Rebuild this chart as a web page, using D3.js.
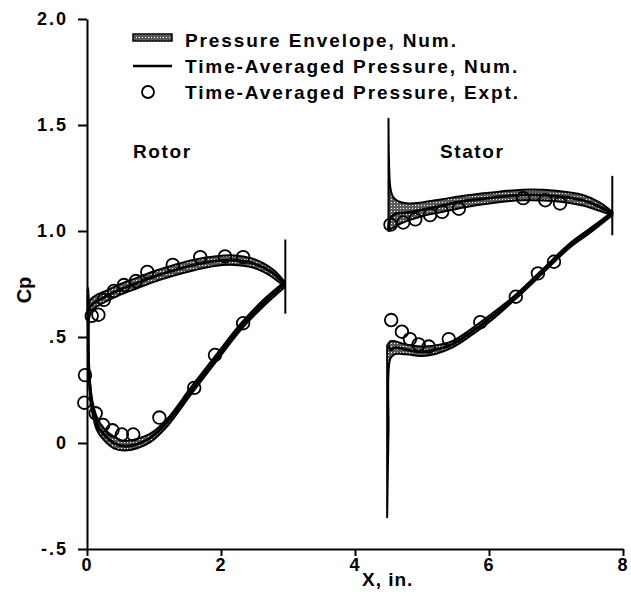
<!DOCTYPE html>
<html>
<head>
<meta charset="utf-8">
<script src="https://cdn.jsdelivr.net/npm/d3@7"></script>
<style>
  body { margin: 0; background: #fff; }
  text { font-family: "Liberation Sans", Arial, Helvetica, sans-serif; font-weight: bold; fill: #000; }
</style>
</head>
<body>
<div id="chart"></div>
<script>
// Set the dimensions of the chart
const width = 631;
const height = 609;

// axis ticks
const xTicks = [0, 2, 4, 6, 8];
const xTickLabels = ["0", "2", "4", "6", "8"];
const yTicks = [-0.5, 0, 0.5, 1.0, 1.5, 2.0];
const yTickLabels = ["-.5", "0", ".5", "1.0", "1.5", "2.0"];

// legend entries
const legendLabels = ["Pressure Envelope, Num.", "Time-Averaged Pressure, Num.", "Time-Averaged Pressure, Expt."];

// time-averaged pressure, numerical [x, Cp]
const rotorUpper = [[0.02, 0.53], [0.01, 0.73], [0.04, 0.64], [0.08, 0.655], [0.15, 0.67], [0.3, 0.695], [0.5, 0.725], [0.75, 0.755], [1.0, 0.785], [1.3, 0.815], [1.6, 0.84], [1.9, 0.858], [2.2, 0.862], [2.45, 0.85], [2.65, 0.825], [2.8, 0.795], [2.95, 0.75]];
const rotorLower = [[0.02, 0.53], [0.02, 0.42], [0.04, 0.28], [0.08, 0.17], [0.15, 0.09], [0.25, 0.04], [0.4, 0.0], [0.55, -0.015], [0.75, -0.005], [0.95, 0.025], [1.2, 0.1], [1.55, 0.245], [1.95, 0.41], [2.3, 0.55], [2.65, 0.665], [2.95, 0.75]];
const statorUpper = [[4.5, 1.01], [4.53, 1.06], [4.6, 1.08], [4.7, 1.085], [4.85, 1.09], [5.0, 1.1], [5.3, 1.12], [5.6, 1.14], [6.0, 1.155], [6.5, 1.17], [7.0, 1.165], [7.4, 1.145], [7.65, 1.115], [7.84, 1.08]];
const statorLower = [[4.5, 0.46], [4.53, 0.44], [4.6, 0.45], [4.7, 0.445], [4.85, 0.435], [5.0, 0.43], [5.2, 0.44], [5.45, 0.465], [5.7, 0.515], [6.0, 0.585], [6.4, 0.69], [6.8, 0.81], [7.2, 0.93], [7.5, 1.0], [7.84, 1.08]];

// pressure envelope, numerical [x, min Cp, max Cp]
const rotorUpperEnv = [[0.02, 0.51, 0.56], [0.04, 0.6, 0.67], [0.08, 0.625, 0.685], [0.15, 0.645, 0.7], [0.3, 0.67, 0.72], [0.5, 0.7, 0.75], [0.75, 0.73, 0.78], [1.0, 0.76, 0.81], [1.3, 0.79, 0.84], [1.6, 0.815, 0.865], [1.9, 0.835, 0.88], [2.2, 0.84, 0.885], [2.45, 0.83, 0.872], [2.65, 0.805, 0.845], [2.8, 0.775, 0.812], [2.95, 0.735, 0.76]];
const rotorLowerEnv = [[0.02, 0.4, 0.5], [0.04, 0.25, 0.31], [0.08, 0.14, 0.2], [0.15, 0.06, 0.12], [0.25, 0.015, 0.07], [0.4, -0.025, 0.03], [0.55, -0.035, 0.01], [0.75, -0.025, 0.02], [0.95, 0.005, 0.045], [1.2, 0.08, 0.115], [1.55, 0.228, 0.262], [1.95, 0.393, 0.425], [2.3, 0.535, 0.565], [2.65, 0.65, 0.68], [2.95, 0.735, 0.76]];
const statorUpperEnv = [[4.5, 1.0, 1.53], [4.51, 1.003, 1.3], [4.53, 1.008, 1.2], [4.57, 1.015, 1.16], [4.65, 1.03, 1.14], [4.8, 1.05, 1.13], [5.0, 1.07, 1.135], [5.3, 1.09, 1.15], [5.6, 1.11, 1.165], [6.0, 1.13, 1.18], [6.5, 1.145, 1.195], [7.0, 1.14, 1.19], [7.4, 1.12, 1.17], [7.65, 1.095, 1.135], [7.84, 1.075, 1.09]];
const statorLowerEnv = [[4.48, -0.35, 0.46], [4.5, 0.05, 0.47], [4.53, 0.4, 0.48], [4.6, 0.42, 0.48], [4.7, 0.42, 0.47], [4.85, 0.415, 0.46], [5.0, 0.41, 0.455], [5.2, 0.42, 0.46], [5.45, 0.45, 0.48], [5.7, 0.5, 0.53], [6.0, 0.57, 0.6], [6.4, 0.68, 0.7], [6.8, 0.8, 0.82], [7.2, 0.92, 0.94], [7.5, 0.99, 1.01], [7.84, 1.075, 1.09]];

// trailing edge marks [x, Cp from, Cp to]
const edgeLines = [[2.96, 0.61, 0.96], [7.84, 0.98, 1.26]];

// time-averaged pressure, experiment [x, Cp]
const rotorExpt = [[0.07, 0.6], [0.17, 0.605], [0.25, 0.675], [0.4, 0.717], [0.55, 0.745], [0.73, 0.764], [0.9, 0.807], [1.28, 0.84], [1.69, 0.877], [2.06, 0.88], [2.33, 0.877],
                   [-0.03, 0.32], [-0.04, 0.19], [0.13, 0.14], [0.24, 0.085], [0.38, 0.06], [0.52, 0.04], [0.69, 0.04], [1.08, 0.12], [1.6, 0.26], [1.91, 0.415], [2.33, 0.565]];
const statorExpt = [[4.53, 1.03], [4.72, 1.04], [4.9, 1.055], [5.12, 1.075], [5.3, 1.09], [5.55, 1.105], [6.51, 1.155], [6.84, 1.145], [7.06, 1.13],
                    [4.54, 0.58], [4.7, 0.525], [4.82, 0.49], [4.95, 0.465], [5.1, 0.455], [5.4, 0.49], [5.87, 0.57], [6.4, 0.69], [6.73, 0.8], [6.97, 0.855]];

const svg = d3.select("#chart")
    .append("svg")
    .attr("width", width)
    .attr("height", height);

// stipple pattern for the envelope band
const pat = svg.append("defs").append("pattern")
    .attr("id", "stipple")
    .attr("patternUnits", "userSpaceOnUse")
    .attr("width", 3)
    .attr("height", 3);
pat.append("rect").attr("width", 3).attr("height", 3).attr("fill", "#5a5a5a");
pat.append("rect").attr("x", 1).attr("y", 1).attr("width", 1).attr("height", 1).attr("fill", "#fff");

// scales
const x = d3.scaleLinear().domain([0, 8]).range([87, 623]);
const y = d3.scaleLinear().domain([-0.5, 2.0]).range([549, 19]);

// axes
const yAxis = svg.append("g")
    .attr("transform", `translate(${x(0)},0)`)
    .call(d3.axisLeft(y).tickValues(yTicks).tickFormat((d, i) => yTickLabels[i]).tickSizeInner(9).tickSizeOuter(0).tickPadding(10));
const xAxis = svg.append("g")
    .attr("transform", `translate(0,${y(-0.5)})`)
    .call(d3.axisBottom(x).tickValues(xTicks).tickFormat((d, i) => xTickLabels[i]).tickSizeInner(7).tickSizeOuter(0).tickPadding(2));
[xAxis, yAxis].forEach(g => {
    g.select(".domain").attr("stroke", "#000").attr("stroke-width", 2);
    g.selectAll(".tick line").attr("stroke", "#000").attr("stroke-width", 2);
    g.selectAll(".tick text")
        .style("font-family", "'Liberation Sans', Arial, sans-serif")
        .style("font-weight", "bold")
        .style("font-size", "18px")
        .style("letter-spacing", "2px")
        .attr("fill", "#000");
});

// axis titles
svg.append("text")
    .attr("x", 362)
    .attr("y", 586)
    .style("font-size", "19px")
    .style("letter-spacing", "1px")
    .text("X, in.");
svg.append("text")
    .attr("transform", "translate(31,290) rotate(-90)")
    .attr("text-anchor", "middle")
    .style("font-size", "20px")
    .text("Cp");

// envelope bands
const area = d3.area()
    .x(d => x(d[0]))
    .y0(d => y(d[1]))
    .y1(d => y(d[2]))
    .curve(d3.curveCatmullRom);
svg.selectAll(".env")
    .data([rotorUpperEnv, rotorLowerEnv, statorUpperEnv, statorLowerEnv])
    .join("path")
    .attr("class", "env")
    .attr("d", area)
    .attr("fill", "url(#stipple)")
    .attr("stroke", "#000")
    .attr("stroke-width", 2)
    .attr("stroke-linejoin", "round");

// time-averaged lines
const line = d3.line()
    .x(d => x(d[0]))
    .y(d => y(d[1]))
    .curve(d3.curveCatmullRom);
svg.selectAll(".avg")
    .data([rotorUpper, rotorLower, statorUpper, statorLower])
    .join("path")
    .attr("class", "avg")
    .attr("d", line)
    .attr("fill", "none")
    .attr("stroke", "#000")
    .attr("stroke-width", 2.8);

// trailing edge marks
svg.selectAll(".edge")
    .data(edgeLines)
    .join("line")
    .attr("class", "edge")
    .attr("x1", d => x(d[0])).attr("x2", d => x(d[0]))
    .attr("y1", d => y(d[1])).attr("y2", d => y(d[2]))
    .attr("stroke", "#000")
    .attr("stroke-width", 2);

// experiment circles
svg.selectAll(".expt")
    .data(rotorExpt.concat(statorExpt))
    .join("circle")
    .attr("class", "expt")
    .attr("cx", d => x(d[0]))
    .attr("cy", d => y(d[1]))
    .attr("r", 6.3)
    .attr("fill", "none")
    .attr("stroke", "#000")
    .attr("stroke-width", 1.8);

// blade labels
svg.append("text").attr("x", 133).attr("y", 158).style("font-size", "19px").style("letter-spacing", "1.6px").text("Rotor");
svg.append("text").attr("x", 440).attr("y", 158).style("font-size", "19px").style("letter-spacing", "1.6px").text("Stator");

// legend
const legend = svg.append("g").attr("class", "legend");
legend.append("rect")
    .attr("x", 133).attr("y", 34)
    .attr("width", 39).attr("height", 7)
    .attr("fill", "url(#stipple)")
    .attr("stroke", "#000")
    .attr("stroke-width", 1.5);
legend.append("line")
    .attr("x1", 133).attr("x2", 172)
    .attr("y1", 66).attr("y2", 66)
    .attr("stroke", "#000")
    .attr("stroke-width", 2.4);
legend.append("circle")
    .attr("cx", 148).attr("cy", 92)
    .attr("r", 6)
    .attr("fill", "none")
    .attr("stroke", "#000")
    .attr("stroke-width", 1.8);
legend.selectAll(".ltext")
    .data(legendLabels)
    .join("text")
    .attr("class", "ltext")
    .attr("x", 185)
    .attr("y", (d, i) => 47 + i * 26)
    .style("font-size", "19px")
    .style("letter-spacing", "1.9px")
    .text(d => d);
</script>
</body>
</html>
